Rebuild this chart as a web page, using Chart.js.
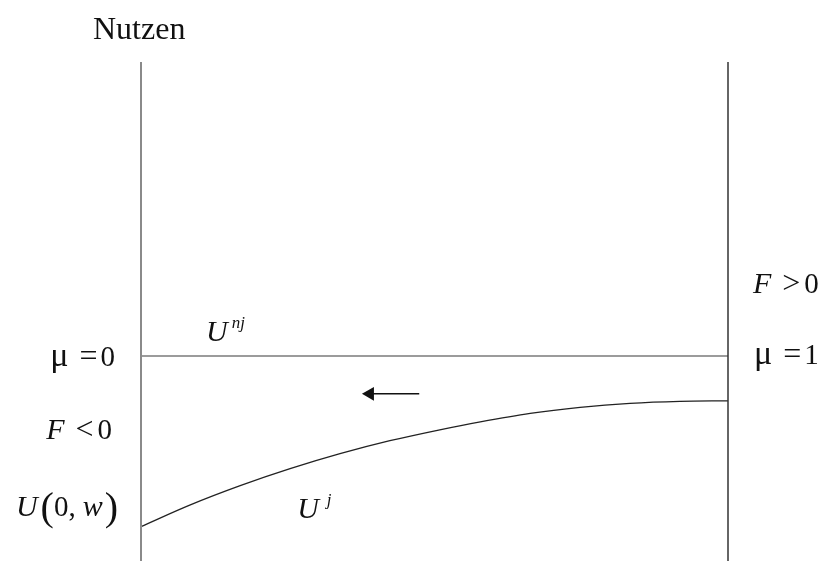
<!DOCTYPE html>
<html>
<head>
<meta charset="utf-8">
<script src="https://cdn.jsdelivr.net/npm/chart.js@4"></script>
<style>
  body { margin: 0; background: #fff; overflow: hidden; }
  canvas { display: block; }
</style>
</head>
<body>
<canvas id="chart_nutzen" width="830" height="561"></canvas>
<script>
// mu runs from 0 (left wall) to 1 (right wall), utility on an arbitrary 0..100 scale
var muRange = [0, 1];
var utilRange = [0, 100];
var uNj = 41.1;              // flat line U^nj
var uJmu = [0, 0.083, 0.169, 0.254, 0.339, 0.424, 0.509, 0.578, 0.663, 0.748, 0.833, 0.918, 1];
var uJ = [6.9, 11.2, 15.1, 18.5, 21.5, 24.1, 26.3, 27.9, 29.6, 30.8, 31.6, 32.0, 32.1];
var arrowMu = [0.390, 0.474];
var arrowU = 33.5;

var serif = '"Liberation Serif", "DejaVu Serif", serif';

function pts(xs, ys) {
    return xs.map(function (x, i) { return { x: x, y: ys[i] }; });
}

// draws a row of text pieces starting at x (left) on baseline y
function drawRun(ctx, x, y, parts, alignRight) {
    var total = 0;
    parts.forEach(function (p) {
        ctx.font = (p.it ? 'italic ' : '') + p.size + 'px ' + serif;
        p.w = ctx.measureText(p.t).width;
        total += p.w + (p.gap || 0);
    });
    var cx = alignRight ? x - total : x;
    parts.forEach(function (p) {
        ctx.font = (p.it ? 'italic ' : '') + p.size + 'px ' + serif;
        ctx.fillText(p.t, cx, y + (p.dy || 0));
        cx += p.w + (p.gap || 0);
    });
}

var labelPlugin = {
    id: 'labels',
    afterDraw: function (chart) {
        var ctx = chart.ctx;
        var xs = chart.scales.x, ys = chart.scales.y;
        var left = xs.getPixelForValue(muRange[0]);
        var right = xs.getPixelForValue(muRange[1]);
        var lineY = ys.getPixelForValue(uNj);
        var top = chart.chartArea.top;
        ctx.save();
        ctx.fillStyle = '#111';
        ctx.textBaseline = 'alphabetic';

        drawRun(ctx, left - 48, top - 23, [{ t: 'Nutzen', size: 32 }]);

        drawRun(ctx, left - 26, lineY + 10, [
            { t: 'μ', size: 34, gap: 11 }, { t: '=', size: 32, gap: 3 }, { t: '0', size: 29 }
        ], true);
        drawRun(ctx, left - 29, lineY + 83, [
            { t: 'F', it: true, size: 30, gap: 11 }, { t: '<', size: 32, gap: 4 }, { t: '0', size: 29 }
        ], true);
        drawRun(ctx, left - 23, ys.getPixelForValue(uJ[0]) - 11, [
            { t: 'U', it: true, size: 30, gap: 3 }, { t: '(', size: 40, dy: 4 }, { t: '0', size: 29 },
            { t: ',', size: 29, gap: 7 }, { t: 'w', it: true, size: 30, gap: 2 }, { t: ')', size: 40, dy: 4 }
        ], true);

        drawRun(ctx, left + 65, lineY - 15, [
            { t: 'U', it: true, size: 30, gap: 4 }, { t: 'nj', it: true, size: 17, dy: -13 }
        ]);
        drawRun(ctx, xs.getPixelForValue(0.266), ys.getPixelForValue(uJ[0]) - 9, [
            { t: 'U', it: true, size: 30, gap: 8 }, { t: 'j', it: true, size: 17, dy: -13 }
        ]);

        drawRun(ctx, right + 25, lineY - 63, [
            { t: 'F', it: true, size: 30, gap: 11 }, { t: '>', size: 32, gap: 4 }, { t: '0', size: 29 }
        ]);
        drawRun(ctx, right + 26, lineY + 8, [
            { t: 'μ', size: 34, gap: 11 }, { t: '=', size: 32, gap: 3 }, { t: '1', size: 29 }
        ]);
        ctx.restore();
    }
};

var chart_nutzen = new Chart(document.getElementById('chart_nutzen'), {
    type: 'line',
    data: {
        datasets: [
            {
                label: 'left wall',
                data: pts([muRange[0], muRange[0]], utilRange),
                borderColor: '#8a8a8a',
                borderWidth: 2,
                pointRadius: 0,
                clip: false
            },
            {
                label: 'right wall',
                data: pts([muRange[1], muRange[1]], utilRange),
                borderColor: '#333',
                borderWidth: 1.5,
                pointRadius: 0,
                clip: false
            },
            {
                label: 'U nj',
                data: pts(muRange, [uNj, uNj]),
                borderColor: '#7a7a7a',
                borderWidth: 1.5,
                pointRadius: 0,
                clip: false
            },
            {
                label: 'U j',
                data: pts(uJmu, uJ),
                borderColor: '#222',
                borderWidth: 1.3,
                pointRadius: 0,
                cubicInterpolationMode: 'monotone',
                clip: false
            },
            {
                label: 'arrow',
                data: pts(arrowMu, [arrowU, arrowU]),
                borderColor: '#111',
                backgroundColor: '#111',
                borderWidth: 1.5,
                pointStyle: 'triangle',
                pointRadius: [8, 0],
                pointRotation: -90,
                pointBorderWidth: 0,
                clip: false
            }
        ]
    },
    options: {
        animation: false,
        responsive: false,
        layout: {
            autoPadding: false,
            padding: { left: 141, right: 102, top: 62, bottom: 0 }
        },
        plugins: {
            legend: { display: false },
            tooltip: { enabled: false },
            title: { display: false }
        },
        scales: {
            x: { type: 'linear', min: muRange[0], max: muRange[1], display: false },
            y: { type: 'linear', min: utilRange[0], max: utilRange[1], display: false }
        }
    },
    plugins: [labelPlugin]
});
</script>
</body>
</html>
